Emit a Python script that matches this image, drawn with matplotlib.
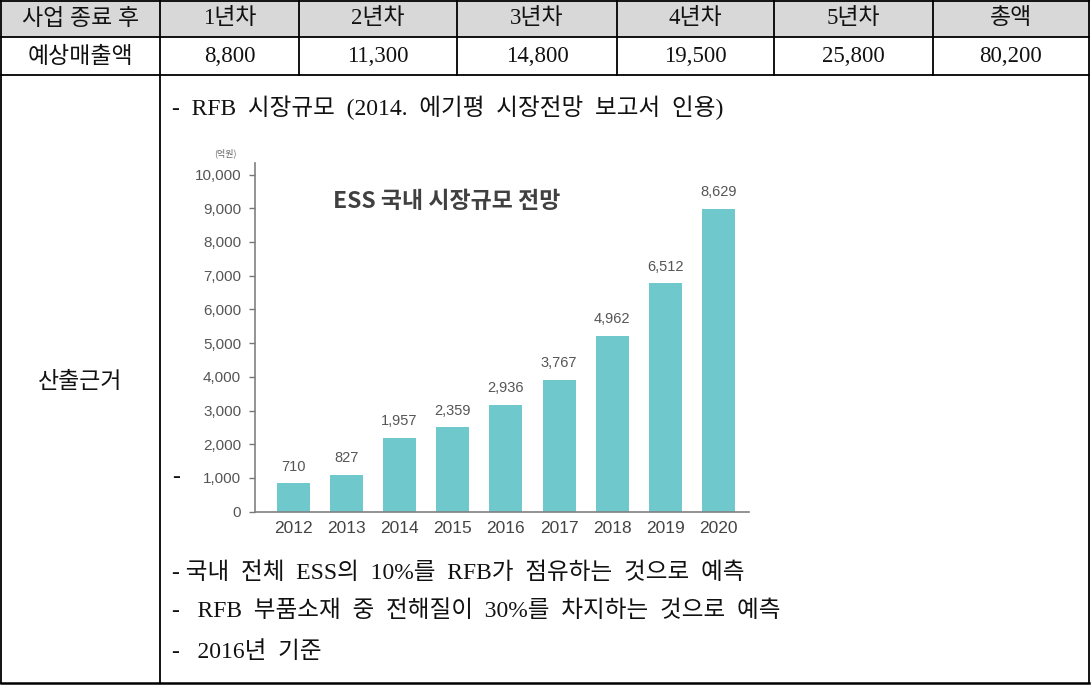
import matplotlib
matplotlib.use('Agg')
import matplotlib.pyplot as plt
from matplotlib import font_manager as fm
from matplotlib.patches import Rectangle

# 표 데이터
header_labels = ['사업 종료 후', '1년차', '2년차', '3년차', '4년차', '5년차', '총액']
row_label = '예상매출액'
sales = [8800, 11300, 14800, 19500, 25800, 80200]
basis_label = '산출근거'
notes_top = '-  RFB  시장규모  (2014.  에기평  시장전망  보고서  인용)'
notes_bottom = [
    '- 국내  전체  ESS의  10%를  RFB가  점유하는  것으로  예측',
    '-   RFB  부품소재  중  전해질이  30%를  차지하는  것으로  예측',
    '-   2016년  기준',
]

# 차트 데이터 (막대 높이는 그림에서 읽은 값, 라벨은 표기된 값)
years = ['2012', '2013', '2014', '2015', '2016', '2017', '2018', '2019', '2020']
bar_heights = [840, 1085, 2190, 2500, 3160, 3900, 5210, 6775, 8975]
bar_labels = ['710', '827', '1,957', '2,359', '2,936', '3,767', '4,962', '6,512', '8,629']
chart_title = 'ESS 국내 시장규모 전망'
unit_label = '(억원)'

W, H = 1091, 687
serif = ['Liberation Serif', 'Noto Sans CJK KR']
names = {f.name for f in fm.fontManager.ttflist}
narrow = 'Liberation Sans Narrow' if 'Liberation Sans Narrow' in names else 'Liberation Sans'
kr_sans = ['Noto Sans CJK KR', 'DejaVu Sans']

fig = plt.figure(figsize=(W / 100, H / 100), dpi=100)

# 배경 표
bg = fig.add_axes([0, 0, 1, 1])
bg.set_xlim(0, W)
bg.set_ylim(H, 0)
bg.axis('off')

col_edges = [1, 160, 299, 457, 617, 774, 933, 1089]
row_edges = [0.5, 37, 75, 683]

bg.add_patch(Rectangle((col_edges[0], row_edges[0]), col_edges[-1] - col_edges[0],
                       row_edges[1] - row_edges[0], facecolor='#d8d8d8', edgecolor='none'))

for y in row_edges:
    bg.plot([col_edges[0], col_edges[-1]], [y, y], color='black', lw=1.3 if y != 683 else 1.8)
for i, x in enumerate(col_edges):
    y_end = row_edges[-1] if i in (0, 1, len(col_edges) - 1) else row_edges[2]
    bg.plot([x, x], [row_edges[0], y_end], color='black', lw=1.3)

fs_table = 16.5
for i, lab in enumerate(header_labels):
    cx = (col_edges[i] + col_edges[i + 1]) / 2
    bg.text(cx, 19, lab, ha='center', va='center', fontsize=fs_table, family=serif, color='#111')

bg.text((col_edges[0] + col_edges[1]) / 2, 57, row_label, ha='center', va='center',
        fontsize=fs_table, family=serif, color='#111')
for i, v in enumerate(sales):
    cx = (col_edges[i + 1] + col_edges[i + 2]) / 2
    bg.text(cx, 57, f'{v:,}', ha='center', va='center', fontsize=fs_table, family=serif, color='#111')

fs_note = 17
bg.text(80, 382, basis_label, ha='center', va='center', fontsize=fs_table, family=serif, color='#111')
bg.text(172, 108, notes_top, ha='left', va='center', fontsize=fs_note, family=serif, color='#111')
bg.text(172, 478, '-', ha='left', va='center', fontsize=fs_note, family=serif, color='#111')
for y, line in zip([573, 611, 652], notes_bottom):
    bg.text(172, y, line, ha='left', va='center', fontsize=fs_note, family=serif, color='#111')

# 막대 차트
y0, y_top, px_per_k = 511.7, 163, (511.7 - 174.5) / 10
x_left, x_right = 255, 749
ax = fig.add_axes([x_left / W, 1 - y0 / H, (x_right - x_left) / W, (y0 - y_top) / H])
xs = list(range(len(years)))
ax.bar(xs, bar_heights, width=0.62, color='#6fc8cc')
for x, h, lab in zip(xs, bar_heights, bar_labels):
    ax.annotate(lab, (x, h), xytext=(0, 7), textcoords='offset points', ha='center', va='bottom',
                fontsize=10.5, family=narrow, color='#555')

ax.set_ylim(0, (y0 - y_top) / px_per_k * 1000)
ax.set_xlim(-0.716, 8.57)
ax.set_yticks(range(0, 10001, 1000))
ax.set_yticklabels([f'{v:,}' for v in range(0, 10001, 1000)], family=narrow, fontsize=11, color='#555')
ax.set_xticks(xs)
ax.set_xticklabels(years, family=narrow, fontsize=12.5, color='#444')
ax.tick_params(axis='y', direction='out', length=4, width=1, color='#777', pad=6)
ax.tick_params(axis='x', length=0, pad=7)
for side in ('top', 'right'):
    ax.spines[side].set_visible(False)
for side in ('left', 'bottom'):
    ax.spines[side].set_color('#808080')
    ax.spines[side].set_linewidth(1.2)
ax.patch.set_alpha(0)

bg.text(447, 201, chart_title, ha='center', va='center', fontsize=16.5, family=kr_sans,
        weight='bold', color='#404040')
bg.text(225, 153, unit_label, ha='center', va='center', fontsize=6.5, family=kr_sans, color='#666')

fig.savefig('out.png', dpi=100)
